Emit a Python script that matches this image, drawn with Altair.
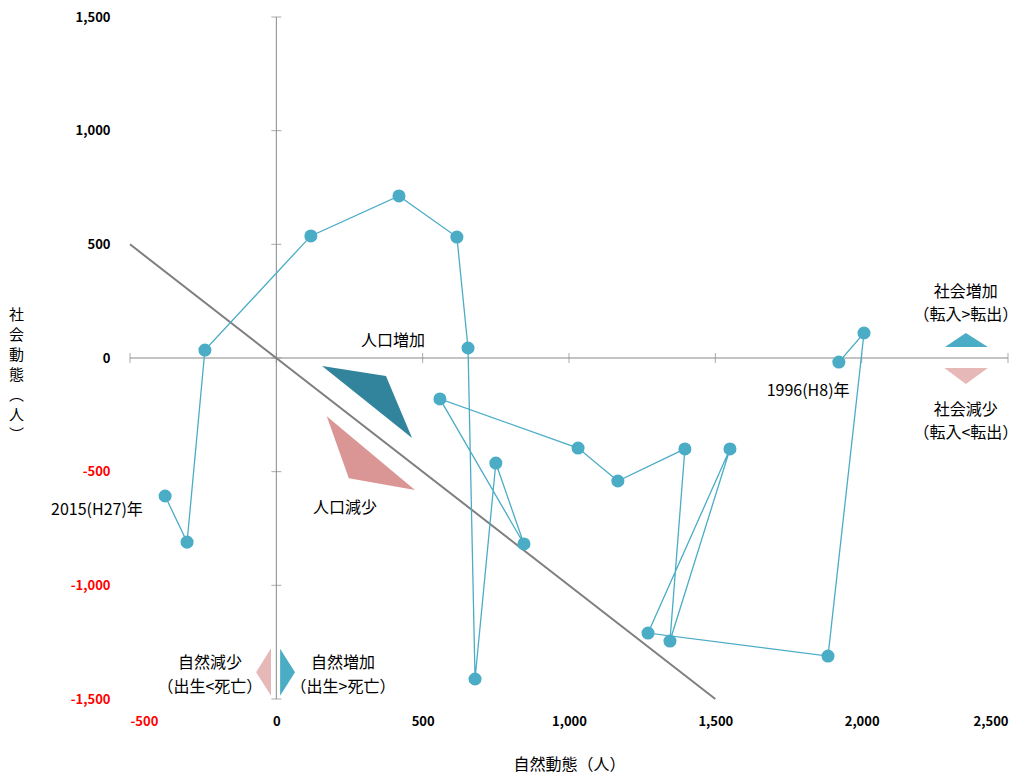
import altair as alt
import pandas as pd

FONT = "Noto Sans CJK JP"

# 1996 (H8) -> 2015 (H27)
years = list(range(1996, 2016))
natural = [1922, 2008, 1885, 1270, 1550, 1345, 1396, 1167, 1031, 559,
           846, 750, 679, 655, 617, 419, 118, -244, -305, -380]
social = [-18, 110, -1311, -1210, -400, -1245, -400, -541, -396, -180,
          -818, -462, -1412, 44, 532, 713, 537, 35, -810, -607]

ticks = [-500, 0, 500, 1000, 1500, 2000, 2500]
yticks = [-1500, -1000, -500, 0, 500, 1000, 1500]

df = pd.DataFrame({"year": years, "natural": natural, "social": social})

xs = alt.Scale(domain=[-500, 2500], nice=False)
ys = alt.Scale(domain=[-1500, 1500], nice=False)

red_neg = {"condition": {"test": "datum.value < 0", "value": "red"}, "value": "black"}
lab = "replace(format(datum.value, ',.0f'), '\u2212', '-')"

base = alt.Chart(df).encode(
    x=alt.X("natural:Q", scale=xs,
            axis=alt.Axis(values=ticks, labelExpr=lab, grid=False, domain=False, ticks=False,
                          labelFont=FONT, labelFontWeight="bold", labelFontSize=13,
                          labelColor=red_neg, labelPadding=16,
                          title="自然動態（人）", titleFont=FONT, titleFontSize=16,
                          titleFontWeight="normal", titlePadding=28)),
    y=alt.Y("social:Q", scale=ys,
            axis=alt.Axis(values=yticks, labelExpr=lab, grid=False, domain=False, ticks=False,
                          labelFont=FONT, labelFontWeight="bold", labelFontSize=13,
                          labelColor=red_neg, labelPadding=20,
                          title=list("社会動態︵人︶"), titleAngle=0, titleFont=FONT,
                          titleFontSize=15, titleFontWeight="normal", titleX=-114,
                          titleY=290, titleBaseline="top", titleAlign="center",
                          titleLineHeight=20)),
    order="year:O",
)

line = base.mark_line(color="#4bacc6", strokeWidth=1.3)
pts = base.mark_point(filled=True, color="#4bacc6", opacity=1, size=170)

# zero axes
zero = pd.DataFrame({"x": [-500, 2500, 0, 0], "y": [0, 0, -1500, 1500], "g": ["h", "h", "v", "v"]})
zlines = alt.Chart(zero).mark_line(color="#888888", strokeWidth=1).encode(
    x=alt.X("x:Q", scale=xs), y=alt.Y("y:Q", scale=ys), detail="g:N")

xt = pd.DataFrame({"x": ticks, "y": [0] * len(ticks)})
yt = pd.DataFrame({"x": [0] * len(yticks), "y": yticks})
xtick = alt.Chart(xt).mark_point(shape="M 0 -1 L 0 1", size=100, color="#888888", strokeWidth=1).encode(
    x=alt.X("x:Q", scale=xs), y=alt.Y("y:Q", scale=ys))
ytick = alt.Chart(yt).mark_point(shape="M -1 0 L 1 0", size=100, color="#888888", strokeWidth=1).encode(
    x=alt.X("x:Q", scale=xs), y=alt.Y("y:Q", scale=ys))

# break-even line (natural + social = 0)
diag = alt.Chart(pd.DataFrame({"x": [-500, 1500], "y": [500, -1500]})).mark_line(
    color="#7f7f7f", strokeWidth=2).encode(x=alt.X("x:Q", scale=xs), y=alt.Y("y:Q", scale=ys))


def tri(x, y, path, size, color):
    return alt.Chart(pd.DataFrame({"x": [x], "y": [y]})).mark_point(
        shape=path, size=size, filled=True, color=color, opacity=1, strokeWidth=0
    ).encode(x=alt.X("x:Q", scale=xs), y=alt.Y("y:Q", scale=ys))


shapes = [
    tri(310, -154, "M -1 -0.6 L 0.42 -0.38 L 1 1 Z", 8100, "#31849b"),
    tri(323, -418, "M -0.98 -0.82 L -0.49 0.56 L 0.98 0.82 Z", 8100, "#d99694"),
    tri(2356, 79, "M -0.95 0.32 L 0 -0.32 L 1 0.32 Z", 1936, "#4bacc6"),
    tri(2356, -79, "M -0.98 -0.36 L 1 -0.36 L 0 0.36 Z", 1936, "#e6b9b8"),
    tri(-42, -1382, "M -0.33 0 L 0.29 -1 L 0.29 0.98 Z", 2304, "#e6b9b8"),
    tri(40, -1382, "M -0.33 -0.98 L -0.33 0.98 L 0.29 0 Z", 2304, "#4bacc6"),
]

labels = pd.DataFrame({
    "x": [399, 235, -613, 1817, 2356, 2356, 2356, 2356, -227, -227, 228, 228],
    "y": [75, -660, -669, -145, 290, 189, -229, -330, -1342, -1448, -1342, -1448],
    "t": ["人口増加", "人口減少", "2015(H27)年", "1996(H8)年", "社会増加", "（転入>転出）",
          "社会減少", "（転入<転出）", "自然減少", "（出生<死亡）", "自然増加", "（出生>死亡）"],
})
text = alt.Chart(labels).mark_text(font=FONT, fontSize=16, color="black", baseline="middle").encode(
    x=alt.X("x:Q", scale=xs), y=alt.Y("y:Q", scale=ys), text="t:N")

chart = alt.layer(zlines, xtick, ytick, diag, *shapes, line, pts, text).properties(
    width=878, height=682, autosize="none",
    padding={"left": 122, "top": 9, "right": 16, "bottom": 75},
).configure_view(stroke=None)

chart.save("out.html", embed_options={"renderer": "svg", "actions": False})
